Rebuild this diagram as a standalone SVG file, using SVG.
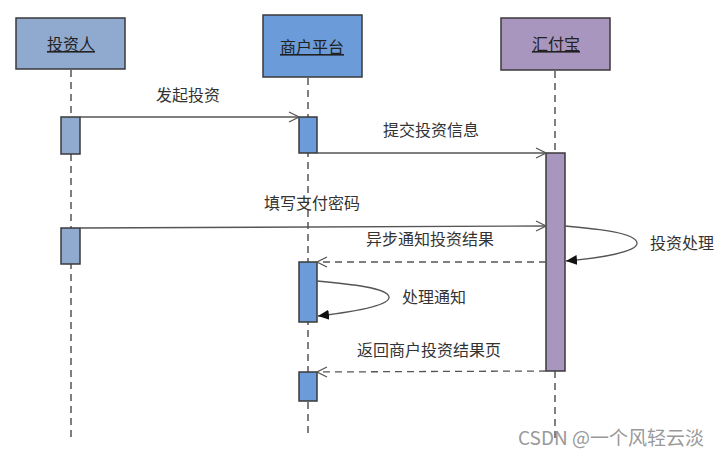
<svg xmlns="http://www.w3.org/2000/svg" width="726" height="456" viewBox="0 0 726 456">
<defs>
<style>
.t{font-family:"Noto Sans CJK SC","Liberation Sans",sans-serif;font-size:16px;fill:#333}
.n{font-family:"Noto Sans CJK SC","Liberation Sans",sans-serif;font-size:16px;fill:#222;text-anchor:middle;text-decoration:underline}
.life{stroke:#555;stroke-width:1.5;stroke-dasharray:7 5;fill:none}
.box{stroke:#3a3a3a;stroke-width:1.5}
.msg{stroke:#555;stroke-width:1.3;fill:none}
.ret{stroke:#555;stroke-width:1.3;fill:none;stroke-dasharray:7 5}
.inv{fill:#90a9cf}
.mer{fill:#6b9bd8}
.hfb{fill:#a896bf}
</style>
<marker id="open" markerWidth="12" markerHeight="12" refX="11" refY="6" orient="auto" markerUnits="userSpaceOnUse">
<path d="M1,1 L11,6 L1,11" fill="none" stroke="#555" stroke-width="1.2"/>
</marker>
<marker id="fill" markerWidth="12" markerHeight="12" refX="11" refY="6" orient="auto" markerUnits="userSpaceOnUse">
<path d="M0,1 L11,6 L0,11 z" fill="#111"/>
</marker>
</defs>
<rect width="726" height="456" fill="#fff"/>
<g id="lifelines">
<line class="life" x1="71" y1="70" x2="71" y2="438"/>
<line class="life" x1="308" y1="78" x2="308" y2="438"/>
<line class="life" x1="555" y1="71" x2="555" y2="438"/>
</g>
<g id="investor">
<rect class="box inv" x="16" y="18" width="109" height="51"/>
<text class="n" x="71" y="50">投资人</text>
<rect class="box inv" x="61" y="117" width="19" height="37"/>
<rect class="box inv" x="61" y="228" width="19" height="36"/>
</g>
<g id="merchant">
<rect class="box mer" x="263" y="15" width="99" height="62"/>
<text class="n" x="312" y="53">商户平台</text>
<rect class="box mer" x="299" y="117" width="18" height="36"/>
<rect class="box mer" x="299" y="262" width="18" height="60"/>
<rect class="box mer" x="299" y="372" width="18" height="29"/>
</g>
<g id="huifubao">
<rect class="box hfb" x="501" y="18" width="109" height="52"/>
<text class="n" x="556" y="50">汇付宝</text>
<rect class="box hfb" x="546" y="153" width="19" height="218"/>
</g>
<g id="connectors">
<line class="msg" x1="80" y1="117" x2="299" y2="117" marker-end="url(#open)"/>
<line class="msg" x1="317" y1="153" x2="546" y2="153" marker-end="url(#open)"/>
<line class="msg" x1="80" y1="228" x2="546" y2="226" marker-end="url(#open)"/>
<line class="ret" x1="546" y1="262" x2="317" y2="262" marker-end="url(#open)"/>
<path class="msg" d="M565,226 C600,229 636,233 637,243 C638,252 600,258 566,261" marker-end="url(#fill)"/>
<path class="msg" d="M317,281 C350,284 388,288 389,297 C390,306 352,312 318,316" marker-end="url(#fill)"/>
<line class="ret" x1="546" y1="371" x2="317" y2="372" marker-end="url(#open)"/>
</g>
<g id="labels">
<text class="t" x="156" y="101">发起投资</text>
<text class="t" x="383" y="136">提交投资信息</text>
<text class="t" x="264" y="209">填写支付密码</text>
<text class="t" x="366" y="245">异步通知投资结果</text>
<text class="t" x="650" y="249">投资处理</text>
<text class="t" x="402" y="303">处理通知</text>
<text class="t" x="357" y="356">返回商户投资结果页</text>
</g>
<text x="518" y="445" style="font-family:'Noto Sans CJK SC','Liberation Sans',sans-serif;font-size:19px;fill:#999">CSDN @一个风轻云淡</text>
</svg>
